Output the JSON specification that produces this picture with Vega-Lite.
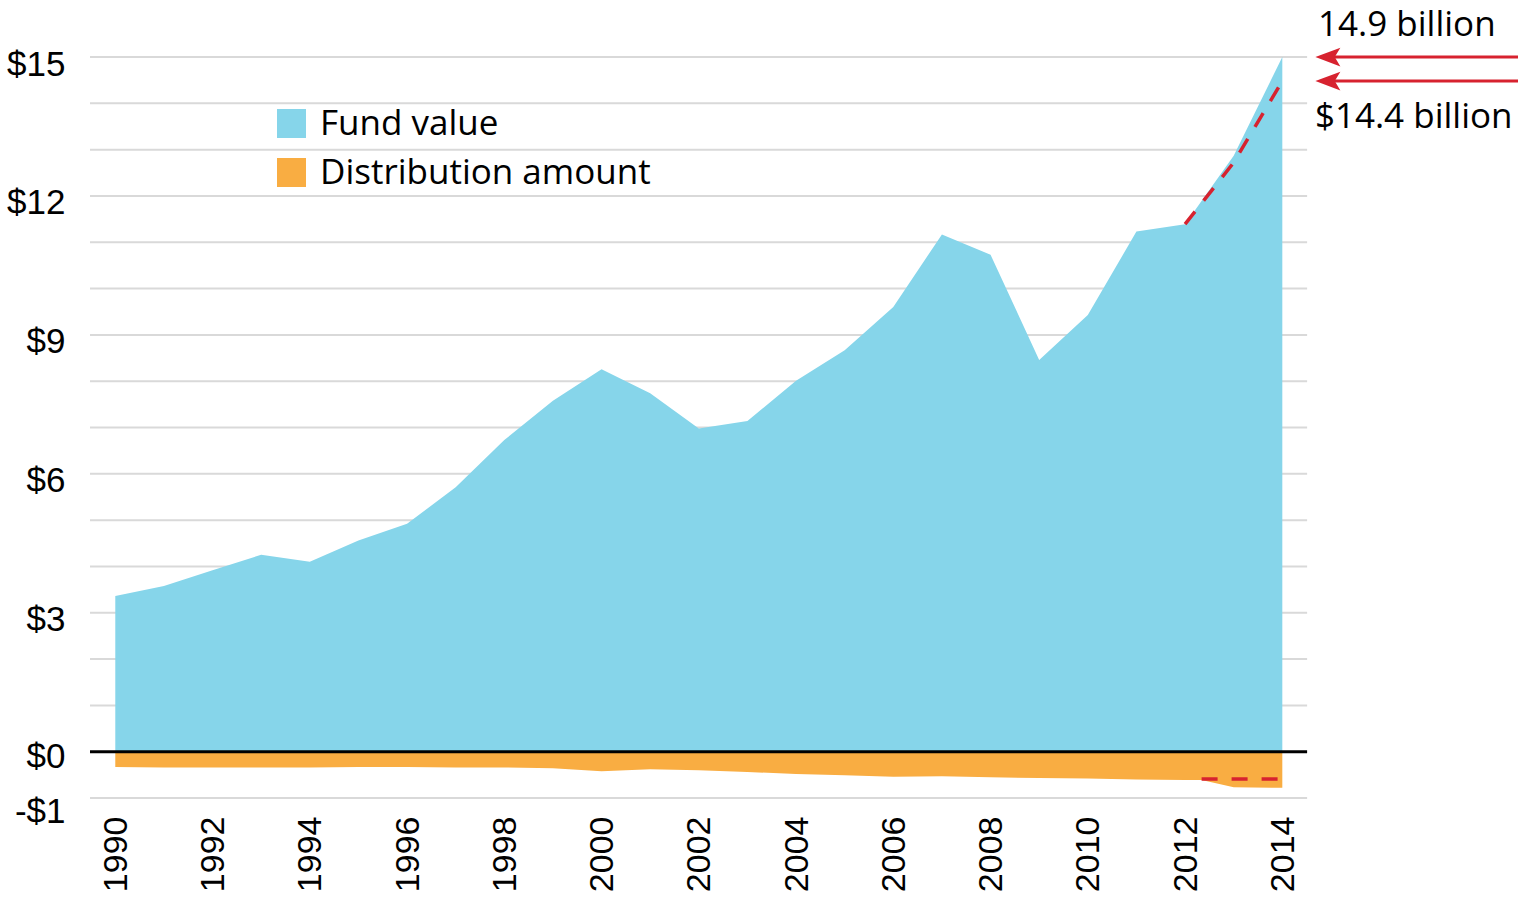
{
  "$schema": "https://vega.github.io/schema/vega-lite/v6.json",
  "width": 1428,
  "height": 741,
  "autosize": {"type": "none"},
  "padding": {"left": 90, "top": 57, "right": 0, "bottom": 99},
  "background": "white",
  "config": {
    "view": {"stroke": null},
    "axisX": {
      "domain": false, "ticks": false, "tickSize": 0, "grid": false,
      "labelAngle": 270, "labelAlign": "right", "labelBaseline": "middle",
      "labelPadding": 18, "labelOffset": 1,
      "labelFont": "Liberation Sans", "labelFontSize": 34, "labelColor": "#000000",
      "labelOverlap": false, "labelFlush": false
    },
    "axisY": {
      "domain": false, "ticks": false, "tickSize": 0, "grid": false,
      "labelPadding": 25, "labelAlign": "right", "labelBaseline": "middle",
      "labelFont": "Liberation Sans", "labelFontSize": 35, "labelColor": "#000000",
      "labelOverlap": false, "labelFlush": false
    }
  },
  "datasets": {
    "series": [
      {"year": 1990, "series": "Fund value", "value": 3.36},
      {"year": 1991, "series": "Fund value", "value": 3.58},
      {"year": 1992, "series": "Fund value", "value": 3.92},
      {"year": 1993, "series": "Fund value", "value": 4.25},
      {"year": 1994, "series": "Fund value", "value": 4.10},
      {"year": 1995, "series": "Fund value", "value": 4.56},
      {"year": 1996, "series": "Fund value", "value": 4.92},
      {"year": 1997, "series": "Fund value", "value": 5.71},
      {"year": 1998, "series": "Fund value", "value": 6.73},
      {"year": 1999, "series": "Fund value", "value": 7.58},
      {"year": 2000, "series": "Fund value", "value": 8.26},
      {"year": 2001, "series": "Fund value", "value": 7.74},
      {"year": 2002, "series": "Fund value", "value": 6.98},
      {"year": 2003, "series": "Fund value", "value": 7.14},
      {"year": 2004, "series": "Fund value", "value": 8.01},
      {"year": 2005, "series": "Fund value", "value": 8.67},
      {"year": 2006, "series": "Fund value", "value": 9.60},
      {"year": 2007, "series": "Fund value", "value": 11.17},
      {"year": 2008, "series": "Fund value", "value": 10.73},
      {"year": 2009, "series": "Fund value", "value": 8.46},
      {"year": 2010, "series": "Fund value", "value": 9.43},
      {"year": 2011, "series": "Fund value", "value": 11.23},
      {"year": 2012, "series": "Fund value", "value": 11.39},
      {"year": 2013, "series": "Fund value", "value": 12.87},
      {"year": 2014, "series": "Fund value", "value": 15.0},
      {"year": 1990, "series": "Distribution amount", "value": -0.33},
      {"year": 1991, "series": "Distribution amount", "value": -0.34},
      {"year": 1992, "series": "Distribution amount", "value": -0.34},
      {"year": 1993, "series": "Distribution amount", "value": -0.34},
      {"year": 1994, "series": "Distribution amount", "value": -0.34},
      {"year": 1995, "series": "Distribution amount", "value": -0.33},
      {"year": 1996, "series": "Distribution amount", "value": -0.33},
      {"year": 1997, "series": "Distribution amount", "value": -0.34},
      {"year": 1998, "series": "Distribution amount", "value": -0.34},
      {"year": 1999, "series": "Distribution amount", "value": -0.36},
      {"year": 2000, "series": "Distribution amount", "value": -0.42},
      {"year": 2001, "series": "Distribution amount", "value": -0.38},
      {"year": 2002, "series": "Distribution amount", "value": -0.40},
      {"year": 2003, "series": "Distribution amount", "value": -0.44},
      {"year": 2004, "series": "Distribution amount", "value": -0.48},
      {"year": 2005, "series": "Distribution amount", "value": -0.51},
      {"year": 2006, "series": "Distribution amount", "value": -0.54},
      {"year": 2007, "series": "Distribution amount", "value": -0.53},
      {"year": 2008, "series": "Distribution amount", "value": -0.55},
      {"year": 2009, "series": "Distribution amount", "value": -0.57},
      {"year": 2010, "series": "Distribution amount", "value": -0.58},
      {"year": 2011, "series": "Distribution amount", "value": -0.60},
      {"year": 2012, "series": "Distribution amount", "value": -0.61},
      {"year": 2012.34, "series": "Distribution amount", "value": -0.61},
      {"year": 2013, "series": "Distribution amount", "value": -0.77},
      {"year": 2014, "series": "Distribution amount", "value": -0.78}
    ],
    "grid": [
      {"v": -1}, {"v": 1}, {"v": 2}, {"v": 3}, {"v": 4}, {"v": 5}, {"v": 6}, {"v": 7},
      {"v": 8}, {"v": 9}, {"v": 10}, {"v": 11}, {"v": 12}, {"v": 13}, {"v": 14}, {"v": 15}
    ],
    "proj": [
      {"grp": "fund", "year": 2012, "value": 11.39},
      {"grp": "fund", "year": 2013, "value": 12.72},
      {"grp": "fund", "year": 2014, "value": 14.48},
      {"grp": "dist", "year": 2012.34, "value": -0.59},
      {"grp": "dist", "year": 2014, "value": -0.59}
    ],
    "arrows": [
      {"tip": 2014.937, "start": 2014.95, "end": 2018.85, "value": 15.0},
      {"tip": 2014.937, "start": 2014.95, "end": 2018.85, "value": 14.48}
    ],
    "notes": [
      {"year": 2014.734, "value": 15.45, "text": "14.9 billion"},
      {"year": 2014.67, "value": 13.46, "text": "$14.4 billion"}
    ]
  },
  "layer": [
    {
      "data": {"name": "grid"},
      "mark": {"type": "rule", "color": "#d9d9d9", "strokeWidth": 2},
      "encoding": {
        "x": {"datum": 1989.48, "type": "quantitative",
          "scale": {"domain": [1989.48, 2018.847], "nice": false, "zero": false},
          "axis": {"title": null, "values": [1990, 1992, 1994, 1996, 1998, 2000, 2002, 2004, 2006, 2008, 2010, 2012, 2014], "format": "d"}},
        "x2": {"datum": 2014.51},
        "y": {"field": "v", "type": "quantitative",
          "scale": {"domain": [-1, 15], "nice": false},
          "axis": {"title": null, "values": [-1, 0, 3, 6, 9, 12, 15],
            "labelExpr": "datum.value < 0 ? '-$' + abs(datum.value) : '$' + datum.value",
            "labelOffset": {"expr": "datum.value == -1 ? 13 : datum.value == 0 ? 5 : 7"}}}
      }
    },
    {
      "data": {"name": "series"},
      "mark": {"type": "area", "interpolate": "linear", "opacity": 1},
      "encoding": {
        "x": {"field": "year", "type": "quantitative",
          "scale": {"domain": [1989.48, 2018.847], "nice": false, "zero": false},
          "axis": {"title": null, "values": [1990, 1992, 1994, 1996, 1998, 2000, 2002, 2004, 2006, 2008, 2010, 2012, 2014], "format": "d"}},
        "y": {"field": "value", "type": "quantitative", "stack": null,
          "scale": {"domain": [-1, 15], "nice": false},
          "axis": {"title": null, "values": [-1, 0, 3, 6, 9, 12, 15],
            "labelExpr": "datum.value < 0 ? '-$' + abs(datum.value) : '$' + datum.value",
            "labelOffset": {"expr": "datum.value == -1 ? 13 : datum.value == 0 ? 5 : 7"}}},
        "color": {
          "field": "series", "type": "nominal",
          "scale": {"domain": ["Fund value", "Distribution amount"], "range": ["#86d5ea", "#f9ad42"]},
          "legend": {
            "title": null, "orient": "none", "legendX": 184, "legendY": 49,
            "symbolType": "square", "symbolSize": 841, "symbolStrokeWidth": 0, "symbolOpacity": 1,
            "labelFont": "Open Sans", "labelFontSize": 35, "labelColor": "#000000", "labelLimit": 0,
            "labelOffset": 11, "rowPadding": 13, "padding": 0
          }
        },
        "detail": {"field": "series"}
      }
    },
    {
      "data": {"name": "grid"},
      "transform": [{"filter": "datum.v == 15"}],
      "mark": {"type": "rule", "color": "#000000", "strokeWidth": 3},
      "encoding": {
        "x": {"datum": 1989.48, "type": "quantitative",
          "scale": {"domain": [1989.48, 2018.847], "nice": false, "zero": false},
          "axis": {"title": null, "values": [1990, 1992, 1994, 1996, 1998, 2000, 2002, 2004, 2006, 2008, 2010, 2012, 2014], "format": "d"}},
        "x2": {"datum": 2014.51},
        "y": {"datum": 0, "type": "quantitative",
          "scale": {"domain": [-1, 15], "nice": false},
          "axis": {"title": null, "values": [-1, 0, 3, 6, 9, 12, 15],
            "labelExpr": "datum.value < 0 ? '-$' + abs(datum.value) : '$' + datum.value",
            "labelOffset": {"expr": "datum.value == -1 ? 13 : datum.value == 0 ? 5 : 7"}}}
      }
    },
    {
      "data": {"name": "proj"},
      "mark": {"type": "line", "color": "#d7222f", "strokeWidth": 3.5, "strokeDash": [16, 14]},
      "encoding": {
        "x": {"field": "year", "type": "quantitative",
          "scale": {"domain": [1989.48, 2018.847], "nice": false, "zero": false},
          "axis": {"title": null, "values": [1990, 1992, 1994, 1996, 1998, 2000, 2002, 2004, 2006, 2008, 2010, 2012, 2014], "format": "d"}},
        "y": {"field": "value", "type": "quantitative",
          "scale": {"domain": [-1, 15], "nice": false},
          "axis": {"title": null, "values": [-1, 0, 3, 6, 9, 12, 15],
            "labelExpr": "datum.value < 0 ? '-$' + abs(datum.value) : '$' + datum.value",
            "labelOffset": {"expr": "datum.value == -1 ? 13 : datum.value == 0 ? 5 : 7"}}},
        "detail": {"field": "grp"}
      }
    },
    {
      "data": {"name": "arrows"},
      "mark": {"type": "rule", "color": "#d7222f", "strokeWidth": 3},
      "encoding": {
        "x": {"field": "start", "type": "quantitative",
          "scale": {"domain": [1989.48, 2018.847], "nice": false, "zero": false},
          "axis": {"title": null, "values": [1990, 1992, 1994, 1996, 1998, 2000, 2002, 2004, 2006, 2008, 2010, 2012, 2014], "format": "d"}},
        "x2": {"field": "end"},
        "y": {"field": "value", "type": "quantitative",
          "scale": {"domain": [-1, 15], "nice": false},
          "axis": {"title": null, "values": [-1, 0, 3, 6, 9, 12, 15],
            "labelExpr": "datum.value < 0 ? '-$' + abs(datum.value) : '$' + datum.value",
            "labelOffset": {"expr": "datum.value == -1 ? 13 : datum.value == 0 ? 5 : 7"}}}
      }
    },
    {
      "data": {"name": "arrows"},
      "mark": {"type": "point", "shape": "M-1,0L1,-0.75L0.55,0L1,0.75Z", "filled": true, "color": "#d7222f", "opacity": 1, "size": 625, "strokeWidth": 0},
      "encoding": {
        "x": {"field": "tip", "type": "quantitative",
          "scale": {"domain": [1989.48, 2018.847], "nice": false, "zero": false},
          "axis": {"title": null, "values": [1990, 1992, 1994, 1996, 1998, 2000, 2002, 2004, 2006, 2008, 2010, 2012, 2014], "format": "d"}},
        "y": {"field": "value", "type": "quantitative",
          "scale": {"domain": [-1, 15], "nice": false},
          "axis": {"title": null, "values": [-1, 0, 3, 6, 9, 12, 15],
            "labelExpr": "datum.value < 0 ? '-$' + abs(datum.value) : '$' + datum.value",
            "labelOffset": {"expr": "datum.value == -1 ? 13 : datum.value == 0 ? 5 : 7"}}}
      }
    },
    {
      "data": {"name": "notes"},
      "mark": {"type": "text", "align": "left", "baseline": "alphabetic", "font": "Open Sans", "fontSize": 35, "color": "#000000"},
      "encoding": {
        "x": {"field": "year", "type": "quantitative",
          "scale": {"domain": [1989.48, 2018.847], "nice": false, "zero": false},
          "axis": {"title": null, "values": [1990, 1992, 1994, 1996, 1998, 2000, 2002, 2004, 2006, 2008, 2010, 2012, 2014], "format": "d"}},
        "y": {"field": "value", "type": "quantitative",
          "scale": {"domain": [-1, 15], "nice": false},
          "axis": {"title": null, "values": [-1, 0, 3, 6, 9, 12, 15],
            "labelExpr": "datum.value < 0 ? '-$' + abs(datum.value) : '$' + datum.value",
            "labelOffset": {"expr": "datum.value == -1 ? 13 : datum.value == 0 ? 5 : 7"}}},
        "text": {"field": "text"}
      }
    }
  ]
}
